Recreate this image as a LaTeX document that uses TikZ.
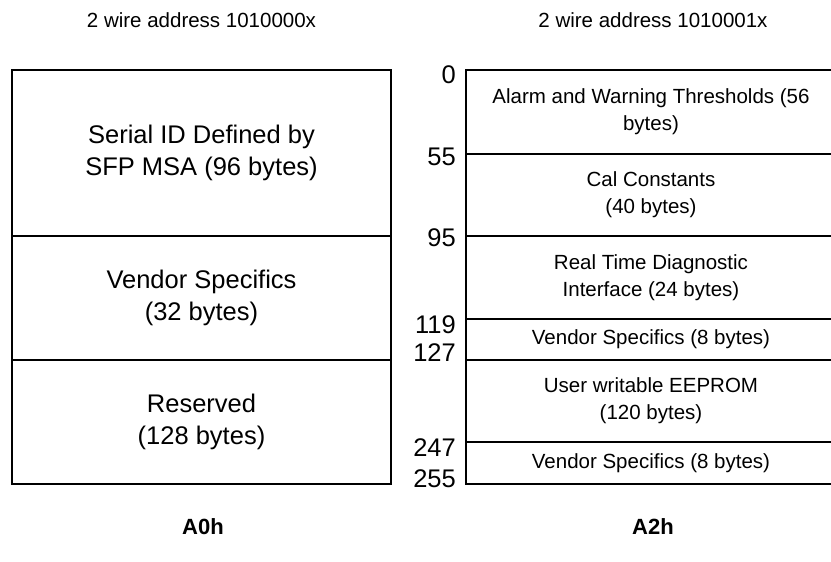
\documentclass[tikz,border=0pt]{standalone}
\usepackage{fontspec}
\setmainfont{Liberation Sans}

\tikzset{
  mapline/.style={line width=1.6pt},
  bigtext/.style={align=center, font=\fontsize{25.5}{31.5}\selectfont},
  smalltext/.style={align=center, font=\fontsize{20.5}{27}\selectfont},
  offset/.style={anchor=east, inner sep=0pt, font=\fontsize{25.5}{25.5}\selectfont},
  caption/.style={font=\fontsize{20.5}{20.5}\selectfont},
  pagename/.style={font=\bfseries\fontsize{22}{22}\selectfont}
}

\begin{document}
\begin{tikzpicture}[x=1pt,y=-1pt]
\useasboundingbox (0,0) rectangle (831,562);
\clip (0,0) rectangle (831,562);

% A0h page
\node[caption] (addrA) at (201.5,20) {2 wire address 1010000x};
\draw[mapline] (12,70) rectangle (391,484);
\draw[mapline] (12,236) -- (391,236);
\draw[mapline] (12,360) -- (391,360);
\node[bigtext] (serial) at (201.5,153) {Serial ID Defined by\\SFP MSA (96 bytes)};
\node[bigtext] (vendA) at (201.5,298) {Vendor Specifics\\(32 bytes)};
\node[bigtext] (resv) at (201.5,422) {Reserved\\(128 bytes)};
\node[pagename] (pageA) at (203,527) {A0h};

% A2h page
\node[caption] (addrB) at (653,20) {2 wire address 1010001x};
\draw[mapline] (466,70) rectangle (836,484);
\draw[mapline] (466,154) -- (836,154);
\draw[mapline] (466,236) -- (836,236);
\draw[mapline] (466,319) -- (836,319);
\draw[mapline] (466,360) -- (836,360);
\draw[mapline] (466,442) -- (836,442);
\node[smalltext] (alarm) at (651,112) {Alarm and Warning Thresholds (56\\bytes)};
\node[smalltext] (cal) at (651,195) {Cal Constants\\(40 bytes)};
\node[smalltext] (diag) at (651,277.5) {Real Time Diagnostic\\Interface (24 bytes)};
\node[smalltext] (vendB) at (651,339.5) {Vendor Specifics (8 bytes)};
\node[smalltext] (user) at (651,401) {User writable EEPROM\\(120 bytes)};
\node[smalltext] (vendC) at (651,463) {Vendor Specifics (8 bytes)};
\node[pagename] (pageB) at (653,527) {A2h};

% byte offsets
\node[offset] (o0) at (456,75) {0};
\node[offset] (o55) at (456,157) {55};
\node[offset] (o95) at (456,238) {95};
\node[offset] (o119) at (456,325) {119};
\node[offset] (o127) at (456,353) {127};
\node[offset] (o247) at (456,448) {247};
\node[offset] (o255) at (456,479) {255};
\end{tikzpicture}
\end{document}
